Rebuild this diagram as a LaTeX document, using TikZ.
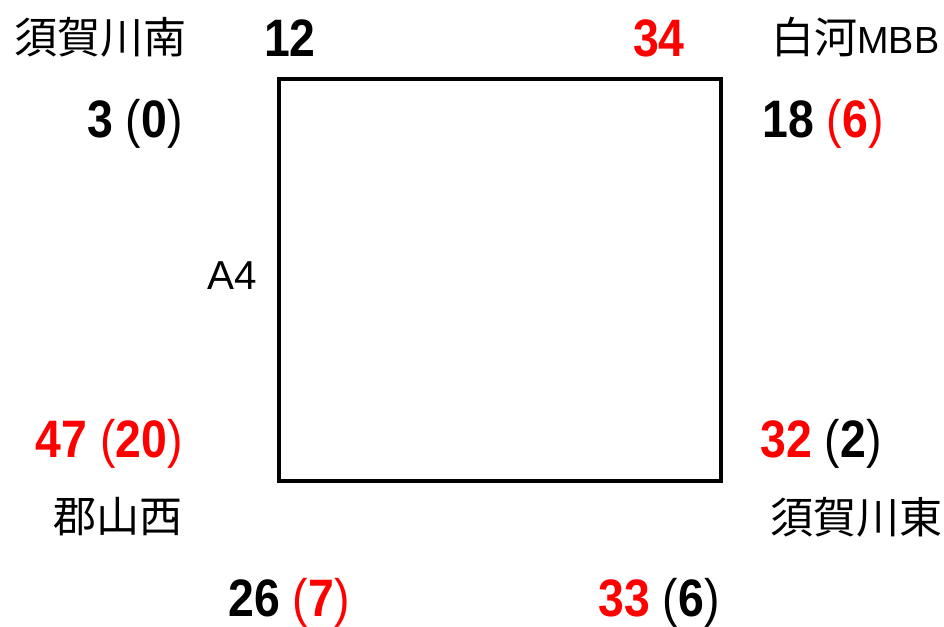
\documentclass[tikz,border=0pt]{standalone}
\usepackage{fontspec}
\setmainfont{Liberation Sans}
\newfontfamily\jpfont{Noto Sans CJK JP}
\newfontfamily\numfont[FakeStretch=0.88]{Liberation Sans}
\usetikzlibrary{positioning}
\definecolor{CntRed}{HTML}{FF0000}
\newcommand{\kakko}[1]{{\mdseries(}#1{\mdseries)}}

\begin{document}
\begin{tikzpicture}[
    x=0.02cm,y=-0.02cm,
    site/.style={inner sep=0pt,font=\jpfont\fontsize{24.5}{28}\selectfont},
    cnt/.style={inner sep=0pt,font=\numfont\bfseries\fontsize{30}{34}\selectfont},
    lane/.style={inner sep=0pt,font=\fontsize{23}{27}\selectfont},
    red/.style={text=CntRed}
  ]
    \useasboundingbox (0,0) rectangle (944,626);
    % intersection
    \draw[line width=2.3pt,line join=miter] (279,79) rectangle (721,481);
    \node[lane] (lane) at (232,276) {A4};
    % top
    \node[site,anchor=west] (sukaminami) at (14,37) {須賀川南};
    \node[cnt,anchor=base] (north1) at (290,56) {12};
    \node[cnt,red,anchor=base] (north2) at (659,56) {34};
    \node[site,anchor=west] (shirakawa) at (771,37) {白河\fontspec{Liberation Sans}\fontsize{21.5}{26}\selectfont MBB};
    \node[cnt,anchor=base east] (nw) at (183,137) {3 \kakko{0}};
    \node[cnt,anchor=base west] (ne) at (762,137) {18 \textcolor{CntRed}{\kakko{6}}};
    % bottom
    \node[cnt,red,anchor=base east] (sw) at (183,457) {47 \kakko{20}};
    \node[cnt,anchor=base west] (se) at (760,457) {\textcolor{CntRed}{32} \kakko{2}};
    \node[site,anchor=east] (koriyama) at (183,517) {郡山西};
    \node[site,anchor=west] (sukahigashi) at (770,517) {須賀川東};
    \node[cnt,anchor=base] (south1) at (289,616) {26 \textcolor{CntRed}{\kakko{7}}};
    \node[cnt,anchor=base] (south2) at (659,616) {\textcolor{CntRed}{33} \kakko{6}};
\end{tikzpicture}
\end{document}
